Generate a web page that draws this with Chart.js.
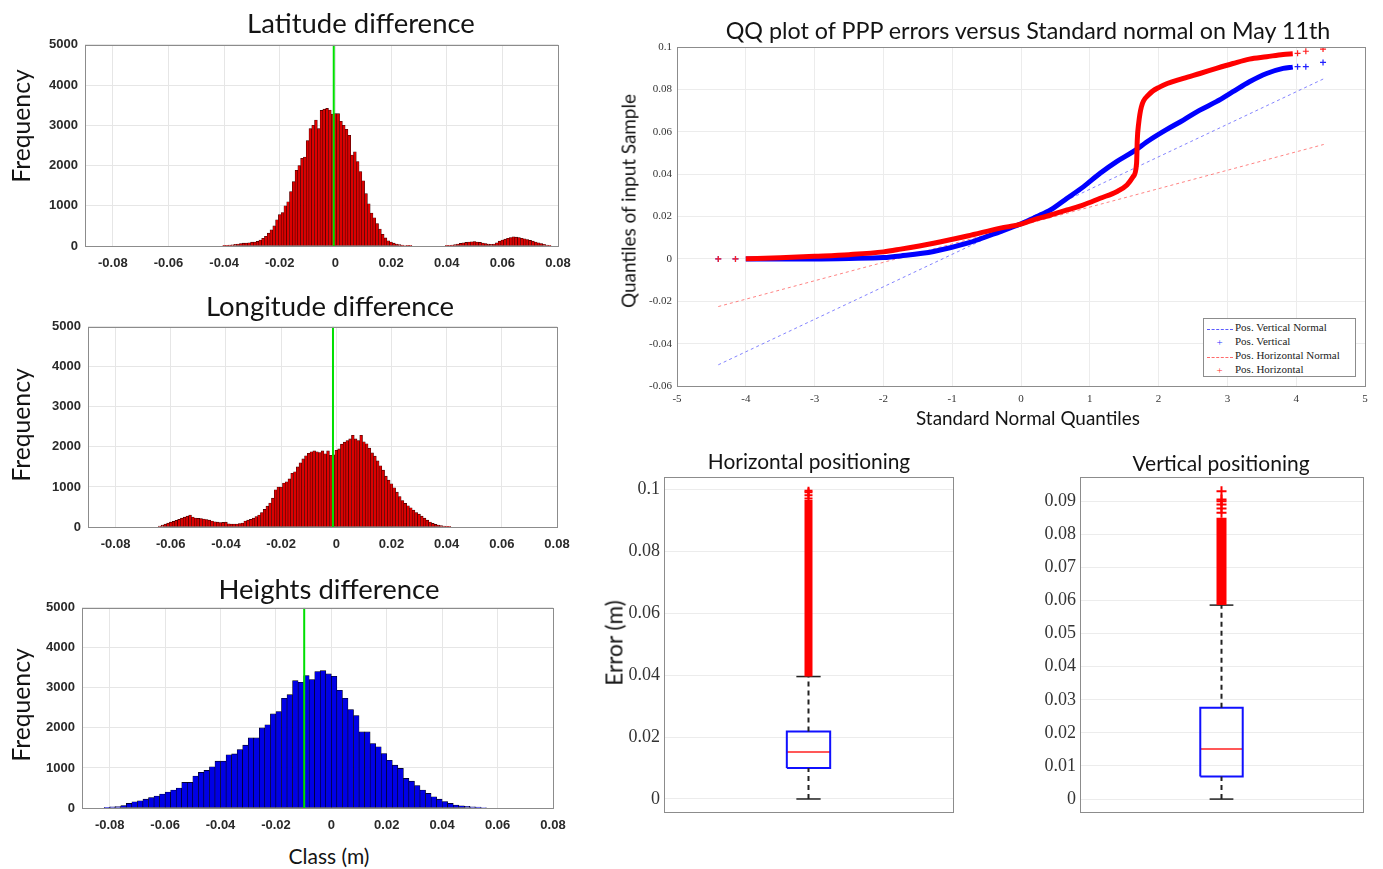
<!DOCTYPE html>
<html>
<head>
<meta charset="utf-8">
<title>PPP errors on May 11th</title>
<script src="https://cdn.jsdelivr.net/npm/chart.js"></script>
<style>
  body { margin: 0; background: #fff; }
  #page { position: relative; width: 1383px; height: 869px; overflow: hidden; font-family: Lato, "Open Sans", sans-serif; color: #141414; }
  canvas { position: absolute; }
  .lbl { position: absolute; transform: translate(-50%, -50%); white-space: nowrap; }
  .rot { transform: translate(-50%, -50%) rotate(-90deg); }
  #legend { position: absolute; left: 1203px; top: 318px; width: 153px; height: 59px; border: 1px solid #8c8c8c; background: #fff;
            font: 11px "Liberation Serif", serif; color: #222; box-sizing: border-box; padding-top: 1px; }
  #legend .row { height: 14px; line-height: 14px; white-space: nowrap; }
  #legend .sym { display: inline-block; width: 31px; text-align: center; vertical-align: middle; }
  #legend .dash { display: inline-block; width: 26px; height: 0; vertical-align: middle; }
</style>
</head>
<body>
<div id="page">
  <canvas id="latChart" width="583" height="246" style="left:0;top:30px"></canvas>
  <canvas id="lonChart" width="582" height="244" style="left:0;top:312px"></canvas>
  <canvas id="hgtChart" width="578" height="245" style="left:0;top:593px"></canvas>
  <canvas id="qqChart" width="780" height="386" style="left:600px;top:34px"></canvas>
  <canvas id="horChart" width="370" height="372" style="left:600px;top:458px"></canvas>
  <canvas id="verChart" width="360" height="372" style="left:1020px;top:458px"></canvas>

  <div class="lbl" style="left:361px;top:22px;font-size:27.5px">Latitude difference</div>
  <div class="lbl" style="left:330px;top:305px;font-size:27.5px">Longitude difference</div>
  <div class="lbl" style="left:329px;top:588px;font-size:27.5px">Heights difference</div>
  <div class="lbl" style="left:329px;top:855px;font-size:21px">Class (m)</div>
  <div class="lbl rot" style="left:20px;top:126px;font-size:24.7px">Frequency</div>
  <div class="lbl rot" style="left:20px;top:425px;font-size:24.7px">Frequency</div>
  <div class="lbl rot" style="left:20px;top:705px;font-size:24.7px">Frequency</div>

  <div class="lbl" style="left:1028px;top:30px;font-size:23.3px">QQ plot of PPP errors versus Standard normal on May 11th</div>
  <div class="lbl" style="left:1028px;top:417px;font-size:18.9px">Standard Normal Quantiles</div>
  <div class="lbl rot" style="left:628px;top:201px;font-size:18.9px">Quantiles of input Sample</div>

  <div class="lbl" style="left:809px;top:460px;font-size:20.9px">Horizontal positioning</div>
  <div class="lbl" style="left:1221px;top:462px;font-size:21px">Vertical positioning</div>
  <div class="lbl rot" style="left:614px;top:643px;font-size:22.7px">Error (m)</div>

  <div id="legend">
    <div class="row"><span class="sym"><span class="dash" style="border-top:1px dashed #5a5aff"></span></span>Pos. Vertical Normal</div>
    <div class="row"><span class="sym" style="color:#3030ff">+</span>Pos. Vertical</div>
    <div class="row"><span class="sym"><span class="dash" style="border-top:1px dashed #ff6a6a"></span></span>Pos. Horizontal Normal</div>
    <div class="row"><span class="sym" style="color:#ff3030">+</span>Pos. Horizontal</div>
  </div>
</div>

<script>
// histogram bins (centre of first bin, bin width) and counts
var histTicksX = [-0.08, -0.06, -0.04, -0.02, 0, 0.02, 0.04, 0.06, 0.08];
var histTicksY = [0, 1000, 2000, 3000, 4000, 5000];

var latStart = -0.040, latWidth = 0.001;
var latCounts = [
  10, 15, 20, 30, 40, 50, 60, 70, 75, 80,
  95, 100, 115, 150, 190, 240, 320, 400, 500, 650,
  780, 830, 1000, 1100, 1350, 1600, 1880, 2000, 2180, 2210,
  2620, 2920, 3000, 3130, 2920, 3370, 3400, 3420, 3380, 3280,
  3290, 3290, 3100, 3000, 2900, 2750, 2260, 2340, 2100, 1850,
  1620, 1300, 1050, 820, 700, 560, 420, 290, 200, 130,
  100, 70, 50, 35, 20, 12, 8, 5,
  0, 0, 0, 0, 0, 0, 0, 0, 0, 0, 0, 0,
  5, 10, 20, 35, 50, 65, 80, 90, 100, 105,
  110, 100, 90, 75, 60, 45, 40, 50, 80, 120,
  150, 170, 190, 210, 230, 220, 210, 190, 180, 160,
  140, 120, 100, 80, 60, 40, 25, 10
];
var latMean = -0.0006;

var lonStart = -0.064, lonWidth = 0.001;
var lonCounts = [
  25, 45, 70, 95, 120, 140, 165, 190, 220, 245,
  270, 300, 250, 225, 215, 210, 200, 185, 170, 150,
  130, 120, 110, 115, 120, 80, 75, 75, 75, 85,
  100, 150, 170, 190, 220, 260, 300, 360, 440, 520,
  600, 720, 930, 1000, 1000, 1100, 1130, 1200, 1340, 1380,
  1500, 1600, 1700, 1780, 1840, 1880, 1900, 1880, 1860, 1900,
  1830, 1900, 1790, 1800, 1915, 1950, 2070, 2120, 2160, 2200,
  2290, 2200, 2160, 2290, 2130, 2080, 1970, 1850, 1770, 1650,
  1530, 1420, 1270, 1170, 1080, 980, 870, 760, 660, 590,
  530, 480, 420, 360, 320, 270, 220, 170, 125, 90,
  65, 50, 35, 25, 15, 10
];
var lonMean = -0.0012;

var hgtStart = -0.081, hgtWidth = 0.002;
var hgtCounts = [
  15, 30, 35, 60, 115, 155, 180, 220, 260, 300,
  350, 400, 450, 500, 640, 640, 800, 890, 940, 1030,
  1170, 1170, 1330, 1350, 1460, 1570, 1750, 1750, 2000, 2080,
  2350, 2410, 2740, 2830, 3180, 3140, 3310, 3210, 3410, 3430,
  3350, 3290, 2940, 2740, 2460, 2310, 1900, 1900, 1610, 1530,
  1360, 1190, 1070, 990, 740, 670, 560, 450, 365, 280,
  220, 160, 115, 75, 55, 40, 30, 20, 12
];
var hgtMean = -0.0098;

// QQ plot: theoretical quantiles and sample quantiles (m)
var qqTicksX = [-5, -4, -3, -2, -1, 0, 1, 2, 3, 4, 5];
var qqTicksY = [-0.06, -0.04, -0.02, 0, 0.02, 0.04, 0.06, 0.08, 0.1];

var vertQ   = [-4.0, -3.5, -3.0, -2.5, -2.0, -1.75, -1.27, -0.78, -0.30, 0, 0.18, 0.43, 0.67, 0.91, 1.15, 1.39, 1.63, 1.87, 2.12, 2.36, 2.60, 2.84, 3.08, 3.32, 3.57, 3.81, 3.95];
var vertVal = [0, 0, 0, 0.0002, 0.0006, 0.0014, 0.0035, 0.0074, 0.0129, 0.0166, 0.0192, 0.0231, 0.0286, 0.0341, 0.0404, 0.0459, 0.0506, 0.0561, 0.0611, 0.0655, 0.0702, 0.0742, 0.0789, 0.0836, 0.0875, 0.0899, 0.0905];
var vertTailQ   = [-4.4, -4.15, 4.02, 4.14, 4.39];
var vertTailVal = [0, 0, 0.0907, 0.0907, 0.0927];
var vertNormQ   = [-4.4, 4.4];
var vertNormVal = [-0.05, 0.085];

var horQ   = [-4.0, -3.5, -3.0, -2.5, -2.0, -1.75, -1.27, -0.78, -0.30, 0, 0.18, 0.43, 0.67, 0.91, 1.15, 1.39, 1.54, 1.63, 1.68, 1.69, 1.71, 1.75, 1.85, 2.02, 2.36, 2.60, 2.84, 3.08, 3.32, 3.57, 3.81, 3.95];
var horVal = [0.0001, 0.0005, 0.0012, 0.002, 0.0033, 0.0046, 0.0074, 0.0108, 0.0145, 0.0164, 0.0184, 0.0207, 0.0231, 0.0255, 0.0286, 0.0317, 0.0349, 0.0388, 0.0451, 0.0561, 0.0639, 0.0718, 0.0773, 0.0812, 0.0852, 0.0875, 0.0899, 0.0922, 0.0943, 0.0954, 0.0965, 0.0968];
var horTailQ   = [-4.4, -4.15, 4.02, 4.14, 4.39];
var horTailVal = [0, 0, 0.097, 0.098, 0.099];
var horNormQ   = [-4.4, 4.4];
var horNormVal = [-0.0225, 0.054];

// box plots (m): lower whisker, q1, median, q3, upper whisker
var horBox = { lo: 0, q1: 0.0100, med: 0.0152, q3: 0.0218, hi: 0.0395 };
var horOutBand = [0.0395, 0.0965];
var horOutPts  = [0.097, 0.098, 0.099, 0.0995];
var horTicksY  = [0, 0.02, 0.04, 0.06, 0.08, 0.1];

var verBox = { lo: 0, q1: 0.0068, med: 0.0151, q3: 0.0276, hi: 0.0586 };
var verOutBand = [0.0586, 0.0850];
var verOutPts  = [0.0865, 0.0878, 0.089, 0.0900, 0.0905, 0.093];
var verTicksY  = [0, 0.01, 0.02, 0.03, 0.04, 0.05, 0.06, 0.07, 0.08, 0.09];

Chart.defaults.animation = false;
Chart.defaults.responsive = false;
Chart.defaults.plugins.legend.display = false;
Chart.defaults.plugins.tooltip.enabled = false;

// grey frame round the plot area, like the matlab axes box
var axesBox = {
  id: 'axesBox',
  afterDatasetsDraw: function(chart) {
    var a = chart.chartArea, ctx = chart.ctx;
    ctx.save();
    ctx.strokeStyle = '#8c8c8c';
    ctx.lineWidth = 1;
    ctx.strokeRect(Math.round(a.left) + 0.5, Math.round(a.top) + 0.5, Math.round(a.right - a.left), Math.round(a.bottom - a.top));
    ctx.restore();
  }
};

function pts(xs, ys) {
  var out = [];
  for (var i = 0; i < xs.length; i++) out.push({ x: xs[i], y: ys[i] });
  return out;
}

function fixTicks(list) {
  return function(scale) { scale.ticks = list.map(function(v) { return { value: v }; }); };
}

function num(v) { return String(+Number(v).toFixed(4)); }

// p: canvas box and plot-area box in page pixels
function frame(p) {
  return {
    pad: { top: p.top - p.y, right: p.x + p.w - p.right, left: 0, bottom: p.xAxis ? 0 : p.y + p.h - p.bottom },
    yw: p.left - p.x,
    xh: p.y + p.h - p.bottom
  };
}

function makeHist(id, p, start, width, counts, mean, fill, edge) {
  var f = frame(p);
  var bars = [];
  for (var i = 0; i < counts.length; i++) bars.push({ x: start + i * width, y: counts[i] });
  var tickFont = { family: '"Liberation Sans", Arial, sans-serif', size: 13, weight: 'bold' };
  return new Chart(document.getElementById(id), {
    type: 'bar',
    data: {
      datasets: [
        { type: 'line', data: [{ x: mean, y: 0 }, { x: mean, y: 5000 }], borderColor: '#00e000', borderWidth: 2, pointRadius: 0, order: 0 },
        { data: bars, backgroundColor: fill, borderColor: edge, borderWidth: 0.6, borderSkipped: false,
          barPercentage: 1, categoryPercentage: 1, order: 1 }
      ]
    },
    options: {
      layout: { padding: f.pad },
      scales: {
        x: { type: 'linear', min: -0.09, max: 0.08, offset: false, afterBuildTicks: fixTicks(histTicksX),
             afterFit: function(s) { s.height = f.xh; },
             grid: { color: '#e6e6e6', drawTicks: false, offset: false }, border: { display: false },
             ticks: { padding: 10, color: '#2a2a2a', font: tickFont, callback: num, maxRotation: 0, autoSkip: false } },
        y: { min: 0, max: 5000, afterBuildTicks: fixTicks(histTicksY),
             afterFit: function(s) { s.width = f.yw; },
             grid: { color: '#e6e6e6', drawTicks: false }, border: { display: false },
             ticks: { padding: 7, color: '#2a2a2a', font: tickFont, callback: num } }
      }
    },
    plugins: [axesBox]
  });
}

makeHist('latChart', { x: 0, y: 30, w: 583, h: 246, left: 85, right: 558, top: 44, bottom: 246, xAxis: true },
  latStart, latWidth, latCounts, latMean, '#dd0000', '#3a0000');
makeHist('lonChart', { x: 0, y: 312, w: 582, h: 244, left: 88, right: 557, top: 326, bottom: 527, xAxis: true },
  lonStart, lonWidth, lonCounts, lonMean, '#dd0000', '#3a0000');
makeHist('hgtChart', { x: 0, y: 593, w: 578, h: 245, left: 82, right: 553, top: 607, bottom: 808, xAxis: true },
  hgtStart, hgtWidth, hgtCounts, hgtMean, '#0000e6', '#000000');

// QQ plot
(function() {
  var f = frame({ x: 600, y: 34, w: 780, h: 386, left: 677, right: 1365, top: 47, bottom: 386, xAxis: true });
  var serif = { family: '"Liberation Serif", serif', size: 11 };
  new Chart(document.getElementById('qqChart'), {
    type: 'scatter',
    data: {
      datasets: [
        { label: 'Pos. Horizontal', data: pts(horTailQ, horTailVal), showLine: false, pointStyle: 'cross', pointRadius: 3, borderColor: '#ff2020', borderWidth: 1.2 },
        { label: 'Pos. Horizontal band', data: pts(horQ, horVal), showLine: true, borderColor: '#ff0000', borderWidth: 5, pointRadius: 0, cubicInterpolationMode: 'monotone' },
        { label: 'Pos. Vertical', data: pts(vertTailQ, vertTailVal), showLine: false, pointStyle: 'cross', pointRadius: 3, borderColor: '#2020ff', borderWidth: 1.2 },
        { label: 'Pos. Vertical band', data: pts(vertQ, vertVal), showLine: true, borderColor: '#0000ff', borderWidth: 5, pointRadius: 0, cubicInterpolationMode: 'monotone' },
        { label: 'Pos. Horizontal Normal', data: pts(horNormQ, horNormVal), showLine: true, borderColor: 'rgba(255,90,90,0.75)', borderWidth: 1, borderDash: [3, 3], pointRadius: 0 },
        { label: 'Pos. Vertical Normal', data: pts(vertNormQ, vertNormVal), showLine: true, borderColor: 'rgba(90,90,255,0.75)', borderWidth: 1, borderDash: [3, 3], pointRadius: 0 }
      ]
    },
    options: {
      layout: { padding: f.pad },
      scales: {
        x: { min: -5, max: 5, afterBuildTicks: fixTicks(qqTicksX), afterFit: function(s) { s.height = f.xh; },
             grid: { color: '#ececec', drawTicks: false }, border: { display: false },
             ticks: { padding: 7, color: '#333', font: serif, callback: num, autoSkip: false, maxRotation: 0 } },
        y: { min: -0.06, max: 0.1, afterBuildTicks: fixTicks(qqTicksY), afterFit: function(s) { s.width = f.yw; },
             grid: { color: '#ececec', drawTicks: false }, border: { display: false },
             ticks: { padding: 5, color: '#333', font: serif, callback: num } }
      }
    },
    plugins: [axesBox]
  });
})();

function makeBox(id, p, st, band, outPts, ticksY, yMin, yMax, bandW) {
  var f = frame(p);
  var c = 0.5, hw = 0.075, cw = 0.042;
  var serif = { family: '"Liberation Serif", serif', size: 18 };
  var outliers = outPts.map(function(v) { return { x: c, y: v }; });
  new Chart(document.getElementById(id), {
    type: 'scatter',
    data: {
      datasets: [
        { data: [{ x: c, y: band[0] }, { x: c, y: band[1] }], showLine: true, borderColor: '#ff0000', borderWidth: bandW, borderCapStyle: 'butt', pointRadius: 0 },
        { data: outliers, showLine: false, pointStyle: 'cross', pointRadius: bandW / 2, borderColor: '#ff0000', borderWidth: 2 },
        { data: [{ x: c, y: st.q3 }, { x: c, y: st.hi }], showLine: true, borderColor: '#222', borderWidth: 2, borderDash: [5, 4], pointRadius: 0 },
        { data: [{ x: c, y: st.lo }, { x: c, y: st.q1 }], showLine: true, borderColor: '#222', borderWidth: 2, borderDash: [5, 4], pointRadius: 0 },
        { data: [{ x: c - cw, y: st.hi }, { x: c + cw, y: st.hi }], showLine: true, borderColor: '#222', borderWidth: 1.5, pointRadius: 0 },
        { data: [{ x: c - cw, y: st.lo }, { x: c + cw, y: st.lo }], showLine: true, borderColor: '#222', borderWidth: 1.5, pointRadius: 0 },
        { data: [{ x: c - hw, y: st.q1 }, { x: c + hw, y: st.q1 }, { x: c + hw, y: st.q3 }, { x: c - hw, y: st.q3 }, { x: c - hw, y: st.q1 }],
          showLine: true, borderColor: '#1010ff', borderWidth: 2, pointRadius: 0 },
        { data: [{ x: c - hw, y: st.med }, { x: c + hw, y: st.med }], showLine: true, borderColor: '#ff2020', borderWidth: 1.5, pointRadius: 0 }
      ]
    },
    options: {
      layout: { padding: f.pad },
      scales: {
        x: { min: 0, max: 1, display: false },
        y: { min: yMin, max: yMax, afterBuildTicks: fixTicks(ticksY), afterFit: function(s) { s.width = f.yw; },
             grid: { color: '#ececec', drawTicks: false }, border: { display: false },
             ticks: { padding: 4, color: '#333', font: serif, callback: num } }
      }
    },
    plugins: [axesBox]
  });
}

makeBox('horChart', { x: 600, y: 458, w: 370, h: 372, left: 664, right: 953, top: 477, bottom: 812 },
  horBox, horOutBand, horOutPts, horTicksY, -0.0042, 0.1039, 8);
makeBox('verChart', { x: 1020, y: 458, w: 360, h: 372, left: 1080, right: 1363, top: 477, bottom: 812 },
  verBox, verOutBand, verOutPts, verTicksY, -0.0039, 0.0973, 10);
</script>
</body>
</html>
